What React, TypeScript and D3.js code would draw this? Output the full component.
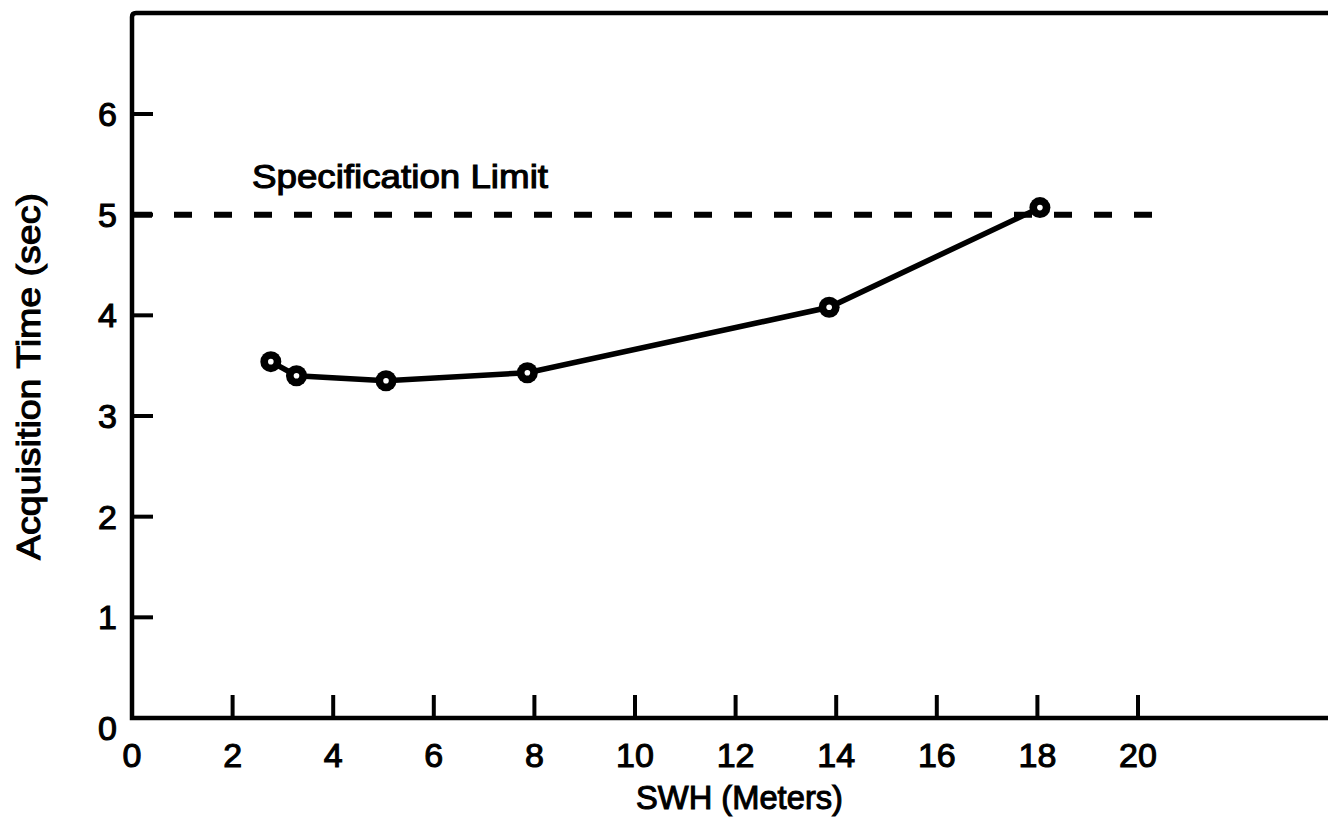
import React from "react";
import * as d3 from "d3";

const swh = [2.76, 3.27, 5.05, 7.86, 13.86, 18.05];
const acqTime = [3.54, 3.4, 3.35, 3.43, 4.08, 5.07];
const xTicks = [0, 2, 4, 6, 8, 10, 12, 14, 16, 18, 20];
const yTicks = [0, 1, 2, 3, 4, 5, 6];
const specLimit = 5;
const specRange = [0, 20.4];

const W = 1328;
const H = 831;
const x0 = 132;
const yBottom = 718;
const yTop = 13;

export default function App() {
  const x = d3.scaleLinear().domain([0, 20]).range([x0, 1138]);
  const y = d3.scaleLinear().domain([0, 6]).range([yBottom, 114]);
  const line = d3
    .line<number>()
    .x((_, i) => x(swh[i]))
    .y((d) => y(d));
  const font = "'Liberation Sans', Arial, sans-serif";
  const textStyle = {
    fontFamily: font,
    fontSize: 34,
    fill: "#000",
    stroke: "#000",
    strokeWidth: 1.1,
  };

  return (
    <svg
      width={W}
      height={H}
      style={{ position: "absolute", left: 0, top: 0, background: "#fff" }}
    >
      <rect width={W} height={H} fill="#fff" />
      {/* frame */}
      <path
        d={`M${W},${yTop} L${x0 + 4},${yTop} Q${x0},${yTop} ${x0},${yTop + 4} L${x0},${yBottom} L${W},${yBottom}`}
        fill="none"
        stroke="#000"
        strokeWidth={4.5}
      />
      {/* y ticks */}
      {yTicks.map((t) => (
        <g key={"y" + t}>
          {t > 0 && (
            <line x1={x0} x2={x0 + 21} y1={y(t)} y2={y(t)} stroke="#000" strokeWidth={4} />
          )}
          <text
            x={117}
            y={(t === 0 ? y(t) + 10 : y(t)) + 12}
            textAnchor="end"
            style={textStyle}
          >
            {t}
          </text>
        </g>
      ))}
      {/* x ticks */}
      {xTicks.map((t) => (
        <g key={"x" + t}>
          {t > 0 && (
            <line x1={x(t)} x2={x(t)} y1={yBottom} y2={yBottom - 23} stroke="#000" strokeWidth={4} />
          )}
          <text x={x(t)} y={767} textAnchor="middle" style={textStyle}>
            {t}
          </text>
        </g>
      ))}
      {/* spec limit */}
      <line
        x1={x(specRange[0]) + 2}
        x2={x(specRange[1])}
        y1={y(specLimit)}
        y2={y(specLimit)}
        stroke="#000"
        strokeWidth={6}
        strokeDasharray="18 22"
      />
      <text x={252} y={188} style={textStyle} textLength={296} lengthAdjust="spacingAndGlyphs">
        Specification Limit
      </text>
      {/* data line */}
      <path d={line(acqTime) || ""} fill="none" stroke="#000" strokeWidth={5.5} />
      {acqTime.map((v, i) => (
        <g key={"p" + i}>
          <circle cx={x(swh[i])} cy={y(v)} r={10.5} fill="#000" />
          <circle cx={x(swh[i])} cy={y(v)} r={2.8} fill="#fff" />
        </g>
      ))}
      {/* axis titles */}
      <text
        x={636}
        y={809}
        style={textStyle}
        textLength={207}
        lengthAdjust="spacingAndGlyphs"
      >
        SWH (Meters)
      </text>
      <text
        transform={`translate(40,560) rotate(-90)`}
        style={textStyle}
        textLength={367}
        lengthAdjust="spacingAndGlyphs"
      >
        Acquisition Time (sec)
      </text>
    </svg>
  );
}
